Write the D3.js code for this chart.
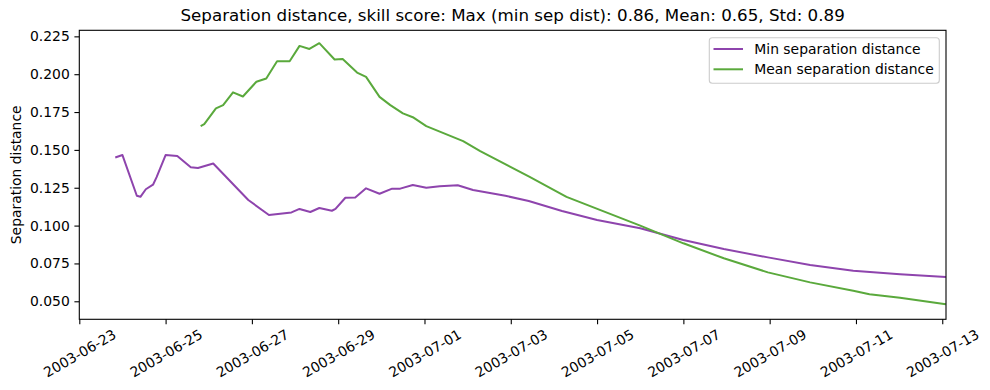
<!DOCTYPE html>
<html>
<head>
<meta charset="utf-8">
<script src="https://cdn.jsdelivr.net/npm/d3@7"></script>
<style>
  body { margin: 0; background: #fff; }
  text { font-family: "DejaVu Sans", sans-serif; fill: #000; }
</style>
</head>
<body>
<script>
// min separation distance (time, value)
const minTimes = ['2003-06-23 20:00', '2003-06-24 00:00', '2003-06-24 08:00', '2003-06-24 10:00', '2003-06-24 13:00',
  '2003-06-24 17:00', '2003-06-24 19:00', '2003-06-25 00:00', '2003-06-25 06:30', '2003-06-25 14:00',
  '2003-06-25 18:00', '2003-06-26 02:30', '2003-06-26 22:00', '2003-06-27 09:30', '2003-06-27 22:00',
  '2003-06-28 02:30', '2003-06-28 08:30', '2003-06-28 13:30', '2003-06-28 20:30', '2003-06-28 22:30',
  '2003-06-29 04:00', '2003-06-29 09:30', '2003-06-29 15:30', '2003-06-29 23:00', '2003-06-30 06:00',
  '2003-06-30 10:30', '2003-06-30 17:30', '2003-07-01 01:00', '2003-07-01 08:30', '2003-07-01 18:30',
  '2003-07-02 03:00', '2003-07-02 21:00', '2003-07-03 10:00', '2003-07-04 04:30', '2003-07-05 00:00',
  '2003-07-06 00:00', '2003-07-07 00:00', '2003-07-07 22:30', '2003-07-08 23:00', '2003-07-09 22:30',
  '2003-07-10 22:30', '2003-07-12 00:30', '2003-07-13 02:00']
const minValues = [0.145, 0.1466, 0.1197, 0.119, 0.124,
  0.127, 0.132, 0.1466, 0.146, 0.1385,
  0.138, 0.141, 0.1169, 0.107, 0.1087,
  0.111, 0.109, 0.1116, 0.1098, 0.111,
  0.1184, 0.1186, 0.1246, 0.121, 0.1244,
  0.1244, 0.1268, 0.125, 0.126, 0.1266,
  0.1235, 0.1197, 0.1162, 0.1096, 0.1037,
  0.0982, 0.0905, 0.0845, 0.079, 0.074,
  0.0702, 0.0678, 0.066]

// mean separation distance
const meanTimes = ['2003-06-25 19:30', '2003-06-25 21:30', '2003-06-26 04:00', '2003-06-26 08:00', '2003-06-26 13:30',
  '2003-06-26 19:00', '2003-06-27 02:30', '2003-06-27 08:00', '2003-06-27 14:00', '2003-06-27 21:00',
  '2003-06-28 02:30', '2003-06-28 08:00', '2003-06-28 13:30', '2003-06-28 22:00', '2003-06-29 02:30',
  '2003-06-29 10:30', '2003-06-29 15:30', '2003-06-29 23:00', '2003-06-30 05:00', '2003-06-30 12:00',
  '2003-06-30 17:30', '2003-07-01 01:00', '2003-07-01 21:30', '2003-07-02 07:00', '2003-07-03 10:30',
  '2003-07-04 07:00', '2003-07-06 00:00', '2003-07-07 00:00', '2003-07-07 22:30', '2003-07-08 23:00',
  '2003-07-09 22:30', '2003-07-10 22:30', '2003-07-11 07:30', '2003-07-12 00:30', '2003-07-13 02:00']
const meanValues = [0.1657, 0.167, 0.1774, 0.1796, 0.188,
  0.1853, 0.195, 0.1972, 0.2086, 0.2086,
  0.2187, 0.2167, 0.2205, 0.2097, 0.210,
  0.2011, 0.1982, 0.185, 0.1796, 0.1741,
  0.1716, 0.1657, 0.1558, 0.1492, 0.1322,
  0.119, 0.1, 0.0883, 0.0784, 0.0691,
  0.0625, 0.057, 0.0546, 0.0524, 0.048]

const xTickLabels = ['2003-06-23', '2003-06-25', '2003-06-27', '2003-06-29', '2003-07-01', '2003-07-03',
  '2003-07-05', '2003-07-07', '2003-07-09', '2003-07-11', '2003-07-13']
const yTickValues = [0.050, 0.075, 0.100, 0.125, 0.150, 0.175, 0.200, 0.225]

const seriesNames = ['Min separation distance', 'Mean separation distance']
const seriesColors = ['#8e44ad', '#5aa93c']

const frame = {
  width: 990,
  height: 390,
  left: 79.3,
  right: 946,
  top: 30.3,
  bottom: 319.3
}

const parseTime = d3.utcParse('%Y-%m-%d %H:%M')
const parseDay = d3.utcParse('%Y-%m-%d')

const svg = d3.select('body').append('svg')
  .attr('width', frame.width)
  .attr('height', frame.height)

const x = d3.scaleUtc()
  .domain([parseDay('2003-06-23'), parseTime('2003-07-13 02:05')])
  .range([frame.left, frame.right])

const y = d3.scaleLinear()
  .domain([0.0381, 0.229])
  .range([frame.bottom, frame.top])

const series = [
  minTimes.map((t, i) => ({ t: parseTime(t), v: minValues[i] })),
  meanTimes.map((t, i) => ({ t: parseTime(t), v: meanValues[i] }))
]

const line = d3.line()
  .x(d => x(d.t))
  .y(d => y(d.v))

// lines
series.forEach((s, i) => {
  svg.append('path')
    .datum(s)
    .attr('fill', 'none')
    .attr('stroke', seriesColors[i])
    .attr('stroke-width', 2)
    .attr('stroke-linejoin', 'round')
    .attr('d', line)
})

// x axis
const xAxis = svg.append('g')
  .attr('transform', `translate(0,${frame.bottom})`)
  .call(d3.axisBottom(x)
    .tickValues(xTickLabels.map(parseDay))
    .tickFormat(d3.utcFormat('%Y-%m-%d'))
    .tickSize(4.9)
    .tickSizeOuter(0))
xAxis.select('.domain').remove()
xAxis.selectAll('line').attr('stroke', '#000').attr('stroke-width', 1.1)
xAxis.selectAll('text')
  .attr('font-size', 13.9)
  .attr('font-family', '"DejaVu Sans", sans-serif')
  .attr('text-anchor', 'middle')
  .attr('dominant-baseline', 'central')
  .attr('y', 0)
  .attr('dy', 0)
  .attr('transform', 'translate(0,34) rotate(-30)')

// y axis
const yAxis = svg.append('g')
  .attr('transform', `translate(${frame.left},0)`)
  .call(d3.axisLeft(y)
    .tickValues(yTickValues)
    .tickFormat(d3.format('.3f'))
    .tickSize(4.9)
    .tickPadding(4.6)
    .tickSizeOuter(0))
yAxis.select('.domain').remove()
yAxis.selectAll('line').attr('stroke', '#000').attr('stroke-width', 1.1)
yAxis.selectAll('text')
  .attr('font-size', 13.9)
  .attr('font-family', '"DejaVu Sans", sans-serif')

// axes frame
svg.append('rect')
  .attr('x', frame.left)
  .attr('y', frame.top)
  .attr('width', frame.right - frame.left)
  .attr('height', frame.bottom - frame.top)
  .attr('fill', 'none')
  .attr('stroke', '#000')
  .attr('stroke-width', 1.1)

// title
svg.append('text')
  .attr('x', (frame.left + frame.right) / 2)
  .attr('y', 20.5)
  .attr('text-anchor', 'middle')
  .attr('font-size', 16.7)
  .text('Separation distance, skill score: Max (min sep dist): 0.86, Mean: 0.65, Std: 0.89')

// y label
svg.append('text')
  .attr('transform', `translate(21,${(frame.top + frame.bottom) / 2}) rotate(-90)`)
  .attr('text-anchor', 'middle')
  .attr('font-size', 13.9)
  .text('Separation distance')

// legend
const legend = svg.append('g')
legend.append('rect')
  .attr('x', 709.3)
  .attr('y', 37.7)
  .attr('width', 230)
  .attr('height', 45.6)
  .attr('rx', 3)
  .attr('fill', '#fff')
  .attr('fill-opacity', 0.8)
  .attr('stroke', '#cccccc')
  .attr('stroke-width', 1.1)

seriesNames.forEach((name, i) => {
  const cy = 49 + i * 20.3
  legend.append('line')
    .attr('x1', 713.5)
    .attr('x2', 743)
    .attr('y1', cy)
    .attr('y2', cy)
    .attr('stroke', seriesColors[i])
    .attr('stroke-width', 2)
  legend.append('text')
    .attr('x', 754.3)
    .attr('y', cy)
    .attr('dy', '0.35em')
    .attr('font-size', 13.9)
    .text(name)
})
</script>
</body>
</html>
